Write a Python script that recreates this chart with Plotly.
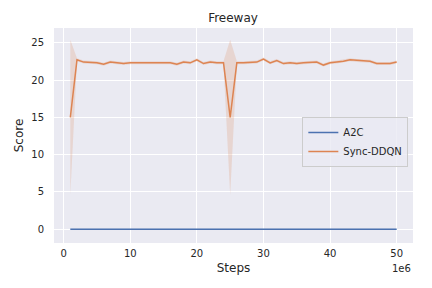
import plotly.graph_objects as go

# ---- data (steps in units of 1e6) ----
steps = [1, 2, 3, 4, 5, 6, 7, 8, 9, 10, 11, 12, 13, 14, 15, 16, 17, 18, 19, 20,
         21, 22, 23, 24, 25, 26, 27, 28, 29, 30, 31, 32, 33, 34, 35, 36, 37, 38, 39, 40,
         41, 42, 43, 44, 45, 46, 47, 48, 49, 50]

a2c_score = [0.0] * 50
a2c_lower = [-0.05] * 50
a2c_upper = [0.05] * 50

ddqn_score = [15.0, 22.7, 22.4, 22.4, 22.3, 22.1, 22.4, 22.3, 22.2, 22.3,
              22.3, 22.2, 22.3, 22.2, 22.3, 22.3, 22.1, 22.4, 22.3, 22.7,
              22.2, 22.4, 22.3, 22.3, 15.0, 22.3, 22.3, 22.4, 22.4, 22.8,
              22.3, 22.6, 22.2, 22.3, 22.2, 22.3, 22.4, 22.4, 22.0, 22.3,
              22.4, 22.5, 22.7, 22.6, 22.5, 22.5, 22.2, 22.2, 22.2, 22.4]
ddqn_lower = [4.6, 22.5, 22.2, 22.2, 22.1, 21.9, 22.2, 22.1, 22.0, 22.1,
              22.1, 22.0, 22.1, 22.0, 22.1, 22.1, 21.9, 22.2, 22.1, 22.5,
              22.0, 22.2, 22.1, 22.1, 4.6, 22.1, 22.1, 22.2, 22.2, 22.6,
              22.1, 22.4, 22.0, 22.1, 22.0, 22.1, 22.2, 22.2, 21.8, 22.1,
              22.2, 22.3, 22.5, 22.4, 22.3, 22.3, 22.0, 22.0, 22.0, 22.2]
ddqn_upper = [25.4, 22.9, 22.6, 22.6, 22.5, 22.3, 22.6, 22.5, 22.4, 22.5,
              22.5, 22.4, 22.5, 22.4, 22.5, 22.5, 22.3, 22.6, 22.5, 22.9,
              22.4, 22.6, 22.5, 22.5, 25.4, 22.5, 22.5, 22.6, 22.6, 23.0,
              22.5, 22.8, 22.4, 22.5, 22.4, 22.5, 22.6, 22.6, 22.2, 22.5,
              22.6, 22.7, 22.9, 22.8, 22.7, 22.7, 22.4, 22.4, 22.4, 22.6]

x_ticks = [0, 10, 20, 30, 40, 50]
y_ticks = [0, 5, 10, 15, 20, 25]

BLUE = "#4c72b0"
ORANGE = "#dd8452"
TXT = "#262626"

# page body has an 8px margin; figure is sized/offset to compensate
W, H = 424, 280

fig = go.Figure()

def band(lower, upper, color):
    fig.add_trace(go.Scatter(x=steps, y=upper, mode="lines", line=dict(width=0),
                             hoverinfo="skip", showlegend=False))
    fig.add_trace(go.Scatter(x=steps, y=lower, mode="lines", line=dict(width=0),
                             fill="tonexty", fillcolor=color,
                             hoverinfo="skip", showlegend=False))

band(a2c_lower, a2c_upper, "rgba(76,114,176,0.2)")
band(ddqn_lower, ddqn_upper, "rgba(221,132,82,0.2)")

fig.add_trace(go.Scatter(x=steps, y=a2c_score, mode="lines", name="A2C",
                         line=dict(color=BLUE, width=1.5)))
fig.add_trace(go.Scatter(x=steps, y=ddqn_score, mode="lines", name="Sync-DDQN",
                         line=dict(color=ORANGE, width=1.5)))

fig.update_layout(
    width=W, height=H,
    margin=dict(l=46, r=19, t=20, b=45, autoexpand=False),
    paper_bgcolor="white",
    plot_bgcolor="#eaeaf2",
    font=dict(family="DejaVu Sans", color=TXT, size=10),
    title=dict(text="Freeway", x=(233 - 8) / W, xanchor="center",
               y=1 - 10 / H, yanchor="middle", yref="container",
               font=dict(size=12, color=TXT)),
    showlegend=True,
    legend=dict(x=0.987, xanchor="right", y=0.586, yanchor="top",
                traceorder="normal",
                bgcolor="rgba(234,234,242,0.8)", bordercolor="#cccccc", borderwidth=1,
                font=dict(size=10, color=TXT), tracegroupgap=0, itemwidth=30),
    xaxis=dict(range=[-1.45, 52.45], tickvals=x_ticks, ticktext=[str(v) for v in x_ticks],
               showgrid=True, gridcolor="white", gridwidth=1, zeroline=False,
               showline=False, ticks="", ticklabelstandoff=3, automargin=False,
               title=dict(text="Steps", font=dict(size=12, color=TXT), standoff=5)),
    yaxis=dict(range=[-1.85, 26.97], tickvals=y_ticks, ticktext=[str(v) for v in y_ticks],
               showgrid=True, gridcolor="white", gridwidth=1, zeroline=False,
               showline=False, ticks="", ticklabelstandoff=9, automargin=False,
               title=dict(text="Score", font=dict(size=12, color=TXT), standoff=5)),
    annotations=[dict(text="1e6", xref="paper", yref="paper", x=1.0, y=-0.085,
                      xanchor="right", yanchor="top", showarrow=False,
                      font=dict(size=10, color=TXT))],
)

fig.write_html("out.html")
